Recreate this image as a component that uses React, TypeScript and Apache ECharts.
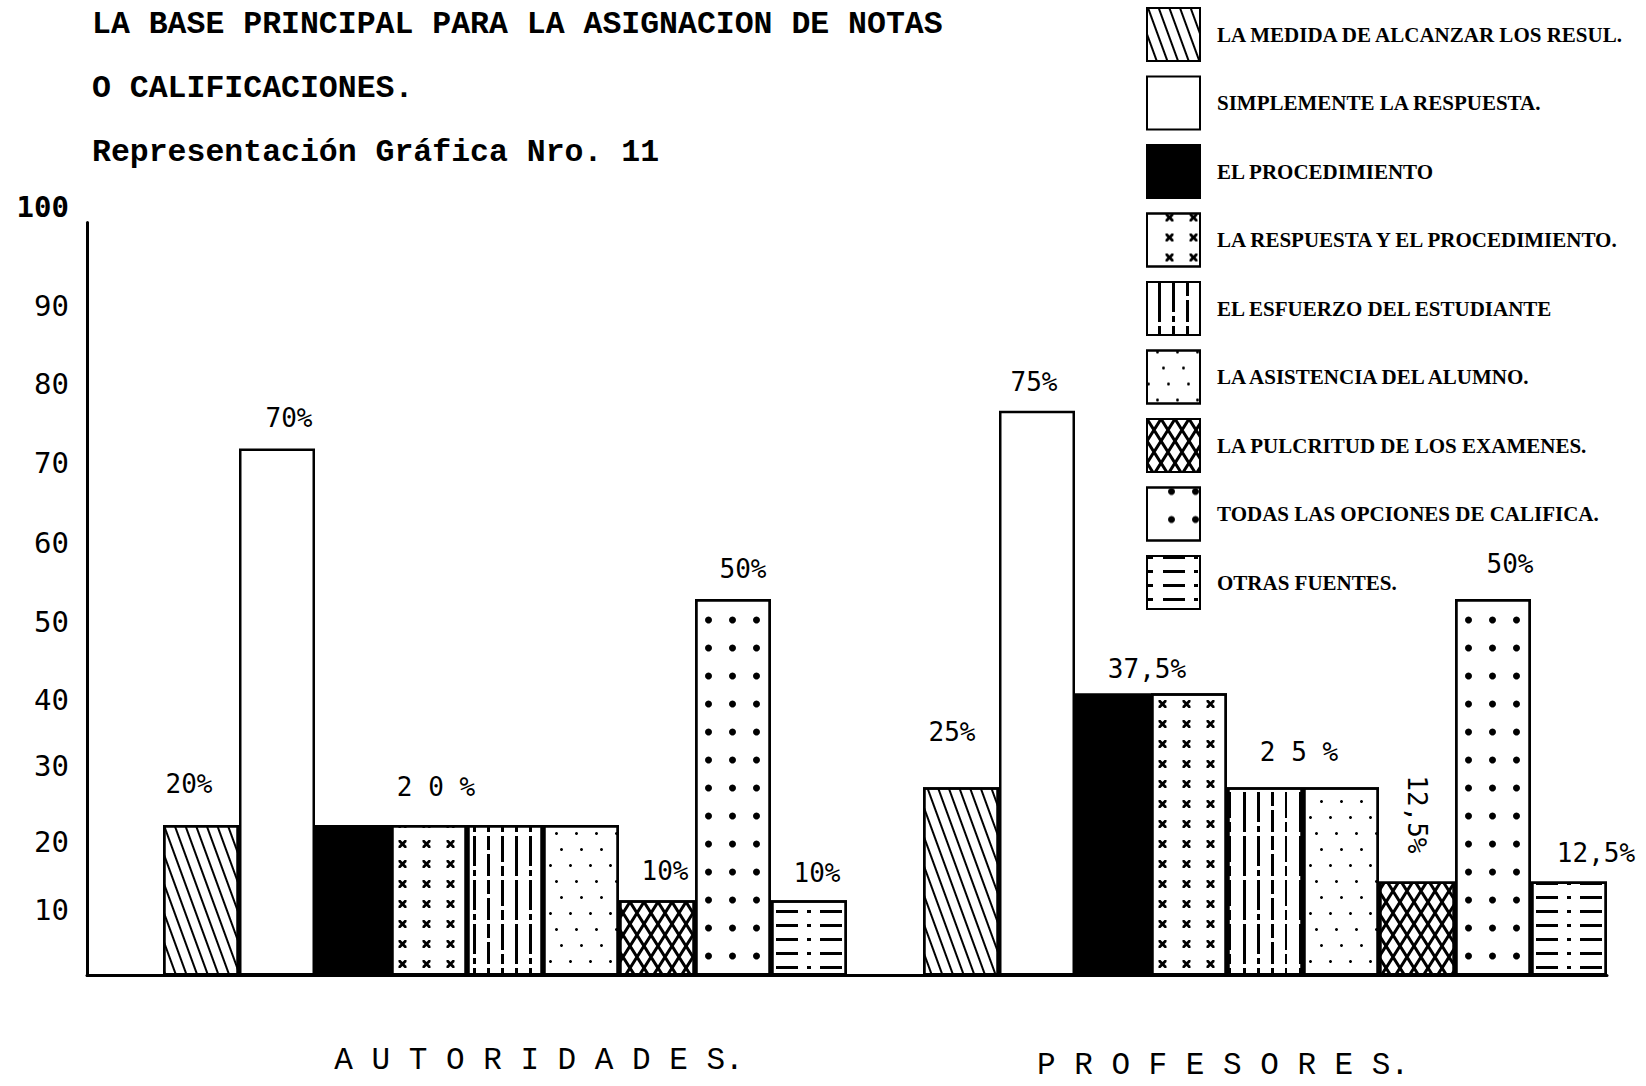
import React, { useEffect, useRef } from 'react';
import * as echarts from 'echarts';

// ---------- DATA ----------
const titleLines = [
  'LA BASE PRINCIPAL PARA LA ASIGNACION DE NOTAS',
  'O CALIFICACIONES.',
  'Representación Gráfica Nro. 11',
];
const groupNames = ['A U T O R I D A D E S.', 'P R O F E S O R E S.'];
const seriesNames = [
  'LA MEDIDA DE ALCANZAR LOS RESUL.',
  'SIMPLEMENTE LA RESPUESTA.',
  'EL PROCEDIMIENTO',
  'LA RESPUESTA Y EL PROCEDIMIENTO.',
  'EL ESFUERZO DEL ESTUDIANTE',
  'LA ASISTENCIA DEL ALUMNO.',
  'LA PULCRITUD DE LOS EXAMENES.',
  'TODAS LAS OPCIONES DE CALIFICA.',
  'OTRAS FUENTES.',
];
const autoridades = [20, 70, 20, 20, 20, 20, 10, 50, 10];
const profesores = [25, 75, 37.5, 37.5, 25, 25, 12.5, 50, 12.5];
const autoridadesLabels = ['20%', '70%', '', '2 0 %', '', '', '10%', '50%', '10%'];
const profesoresLabels = ['25%', '75%', '37,5%', '', '2 5 %', '', '12,5%', '50%', '12,5%'];
const yTicks = [0, 10, 20, 30, 40, 50, 60, 70, 80, 90, 100];

// ---------- LAYOUT / STYLE ----------
const SLOTS = 20; // one empty slot before each group of 9 bars
const groupStart = [1, 11];
const groupLabelSlot = [5, 14];
const autLabelOffsets: any[] = [[-12, -28], [12, -17], null, [7, -25], null, null, [8, -16], [10, -17], [8, -14]];
const profLabelOffsets: any[] = [[-9, -42], [-3, -16], [34, -11], null, [34, -22], null, 'rot', [17, -22], [27, -15]];
// hand-typed tick labels sit a little off the regular grid (vertical shift in px)
const yLabelShift: Record<number, number> = { 10: 10, 20: 17, 30: 16, 40: 26, 50: 23, 60: 19, 70: 15, 80: 11, 90: 8 };

const X_PATH = 'path://M0 0L5 0L10 5L15 0L20 0L20 5L15 10L20 15L20 20L15 20L10 15L5 20L0 20L0 15L5 10L0 5Z';
const LATTICE = 'path://M0 0L13 0L100 87L100 100L87 100L0 13Z M87 0L100 0L100 13L13 100L0 100L0 87Z';

const fills = ['#fff', '#fff', '#000', '#fff', '#fff', '#fff', '#fff', '#fff', '#fff'];
const decals: any[] = [
  { symbol: 'rect', dashArrayX: [2, 8], dashArrayY: [10, 0], rotation: -0.35, color: '#000' },
  null,
  null,
  { symbol: X_PATH, dashArrayX: [[0, 18, 9, 15, 9, 15, 9, 1]], dashArrayY: [8, 12], color: '#000' },
  { symbol: 'rect', dashArrayX: [[40, 4], [26, 4, 10, 4], [14, 4, 22, 4], [30, 4, 6, 4]], dashArrayY: [2.5, 11], rotation: Math.PI / 2, color: '#000' },
  { symbol: 'circle', dashArrayX: [[3, 17], [0, 9, 3, 8], [0, 15, 3, 2]], dashArrayY: [3, 13], color: '#000' },
  { symbol: LATTICE, symbolKeepAspect: false, dashArrayX: [14, 0], dashArrayY: [22, 0], color: '#000' },
  { symbol: 'circle', dashArrayX: [[0, 21, 7, 17, 7, 17, 7, 0]], dashArrayY: [8, 20], color: '#000' },
  { symbol: 'rect', dashArrayX: [[6, 10, 22, 9, 4, 9, 16, 0]], dashArrayY: [3, 11], color: '#000' },
];

const valueFont = { fontFamily: 'DejaVu Sans Mono', fontSize: 26, color: '#000' };

function makeLabel(text: string, off: any) {
  if (!text) return { show: false };
  if (off === 'rot') {
    return {
      show: true, formatter: text, position: 'top', distance: 67, rotate: -90,
      align: 'center', verticalAlign: 'middle', ...valueFont,
    };
  }
  return { show: true, formatter: text, position: 'top', distance: 0, offset: off, ...valueFont };
}

function buildSeries() {
  return seriesNames.map((name, i) => {
    const data: any[] = new Array(SLOTS).fill('-');
    data[groupStart[0] + i] = { value: autoridades[i], label: makeLabel(autoridadesLabels[i], autLabelOffsets[i]) };
    data[groupStart[1] + i] = { value: profesores[i], label: makeLabel(profesoresLabels[i], profLabelOffsets[i]) };
    const itemStyle: any = { color: fills[i], borderColor: '#000', borderWidth: 2.5 };
    if (decals[i]) itemStyle.decal = decals[i];
    return {
      name,
      type: 'bar',
      data,
      barGap: '-100%',
      barCategoryGap: '0%',
      itemStyle,
      emphasis: { disabled: true },
    };
  });
}

const slotNames = Array.from({ length: SLOTS }, (_, i) => 'slot' + i);

const yRich: any = {
  b: { fontFamily: 'DejaVu Sans Mono', fontSize: 29, fontWeight: 'bold', color: '#000', padding: [0, 0, 32, 0] },
};
yTicks.forEach((t) => {
  if (yLabelShift[t] != null) {
    yRich['n' + t] = { fontFamily: 'DejaVu Sans Mono', fontSize: 29, color: '#000', padding: [yLabelShift[t] * 2, 0, 0, 0] };
  }
});

const option: any = {
  animation: false,
  title: {
    text: titleLines.join('\n'),
    left: 92,
    top: -8,
    padding: 0,
    textStyle: { fontFamily: 'Liberation Mono', fontSize: 31.5, fontWeight: 'bold', color: '#000', lineHeight: 64 },
  },
  legend: {
    orient: 'vertical',
    left: 1146,
    top: 7,
    padding: 0,
    itemWidth: 53,
    itemHeight: 53,
    itemGap: 13.5,
    icon: 'rect',
    selectedMode: false,
    textStyle: { fontFamily: 'Liberation Serif', fontSize: 21, fontWeight: 'bold', color: '#000', padding: [0, 0, 0, 12] },
    data: seriesNames,
  },
  grid: { left: 87, right: 39, top: 222.6, bottom: 110.5, containLabel: false, outerBoundsMode: 'none' },
  xAxis: {
    type: 'category',
    data: slotNames,
    boundaryGap: true,
    axisTick: { show: false },
    axisLine: { show: true, lineStyle: { color: '#000', width: 3 } },
    axisLabel: {
      interval: 0,
      margin: 73,
      formatter: (_v: string, idx: number) =>
        idx === groupLabelSlot[0] ? `{a|${groupNames[0]}}` : idx === groupLabelSlot[1] ? `{p|${groupNames[1]}}` : '',
      rich: {
        a: { fontFamily: 'Liberation Mono', fontSize: 31, lineHeight: 24, color: '#000', padding: [0, 0, 0, 68] },
        p: { fontFamily: 'Liberation Mono', fontSize: 31, lineHeight: 24, color: '#000', padding: [10, 0, 0, 68] },
      },
    },
    splitLine: { show: false },
  },
  yAxis: {
    type: 'value',
    min: yTicks[0],
    max: yTicks[yTicks.length - 1],
    interval: yTicks[1] - yTicks[0],
    axisLine: { show: true, lineStyle: { color: '#000', width: 3 } },
    axisTick: { show: false },
    splitLine: { show: false },
    axisLabel: {
      margin: 18,
      formatter: (v: number) => (v === 0 ? '' : v === 100 ? `{b|${v}}` : `{n${v}|${v}}`),
      rich: yRich,
    },
  },
  series: buildSeries(),
};

export default function App() {
  const ref = useRef<HTMLDivElement>(null);
  useEffect(() => {
    const chart = echarts.init(ref.current as HTMLDivElement, null, { renderer: 'svg' });
    chart.setOption(option);
    return () => chart.dispose();
  }, []);
  return (
    <div
      ref={ref}
      style={{ position: 'absolute', left: 0, top: 0, width: 1646, height: 1086, background: '#fff' }}
    />
  );
}
